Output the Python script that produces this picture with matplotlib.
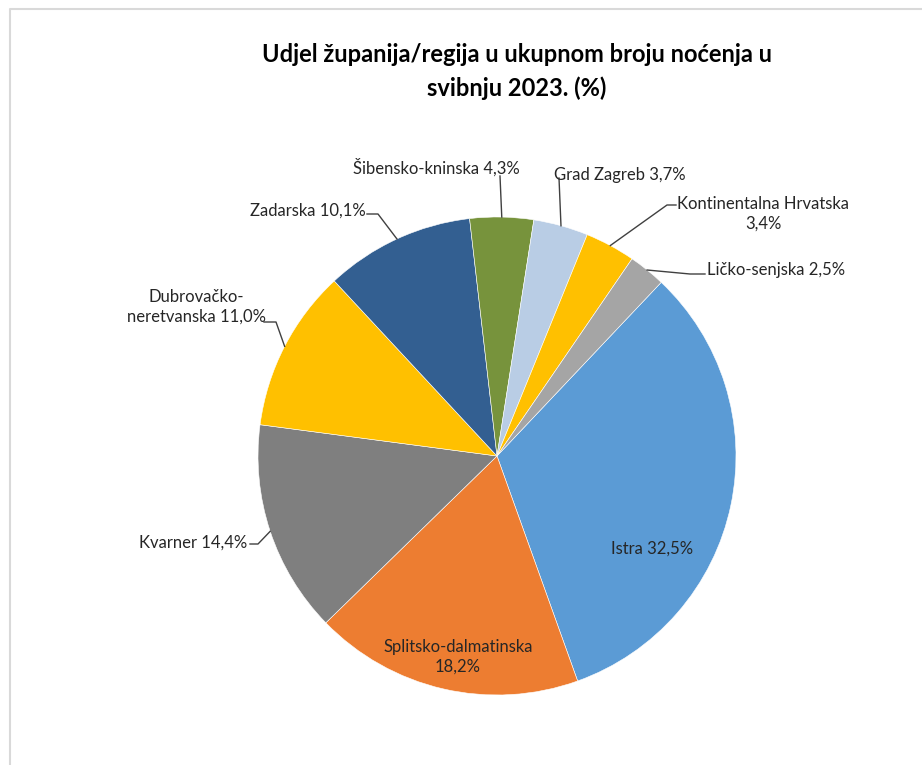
import numpy as np
import matplotlib.pyplot as plt
from matplotlib.lines import Line2D

plt.rcParams['font.family'] = ['Lato', 'DejaVu Sans']

# podaci (u smjeru kazaljke na satu, počevši od Istre)
regije = ['Istra', 'Splitsko-dalmatinska', 'Kvarner', 'Dubrovačko-\nneretvanska',
          'Zadarska', 'Šibensko-kninska', 'Grad Zagreb', 'Kontinentalna Hrvatska',
          'Ličko-senjska']
udjeli = [32.5, 18.2, 14.4, 11.0, 10.1, 4.3, 3.7, 3.4, 2.5]
boje = ['#5B9BD5', '#ED7D31', '#7F7F7F', '#FFC000', '#335F91',
        '#77933C', '#B9CDE5', '#FFC000', '#A5A5A5']

W, H = 922, 765
fig = plt.figure(figsize=(W / 100, H / 100), dpi=100)

# pie u zasebnim osima (ispod osi s oznakama)
cx, cy, r = 497, 456, 239
pax = fig.add_axes([(cx - r) / W, 1 - (cy + r) / H, 2 * r / W, 2 * r / H])
wedges, _ = pax.pie(udjeli, colors=boje, startangle=46.6, counterclock=False,
                    radius=1, center=(0, 0),
                    wedgeprops=dict(linewidth=0.4, edgecolor='white'))
pax.set_xlim(-1, 1)
pax.set_ylim(-1, 1)
pax.set_aspect('equal')
pax.axis('off')
pax.set_zorder(1)

ax = fig.add_axes([0, 0, 1, 1])
ax.set_xlim(0, W)
ax.set_ylim(H, 0)
ax.axis('off')
ax.set_zorder(2)

# okvir grafikona (gornji i lijevi rub)
ax.add_line(Line2D([10, 10, W], [H, 9, 9], color='#D9D9D9', lw=1.5))

fig.text(517 / W, 1 - 55 / H, 'Udjel županija/regija u ukupnom broju noćenja u',
         ha='center', va='center', fontsize=17, fontweight='bold', color='black')
fig.text(517 / W, 1 - 88 / H, 'svibnju 2023. (%)',
         ha='center', va='center', fontsize=17, fontweight='bold', color='black')

def fmt(v):
    return f'{v:.1f}%'.replace('.', ',')

txt_col = '#262626'
fs = 12

# raspored oznaka: (x, y, ha, točke vodilice u pikselima ili None)
raspored = [
    (652, 549, 'center', None),
    (458, 657, 'center', None),
    (247, 543, 'right', [(250, 544), (258, 544)]),
    (196, 307, 'center', [(264, 322), (276, 322)]),
    (366, 211, 'right', [(367, 214), (378, 214)]),
    (436, 167, 'center', [(500, 176)]),
    (620, 175, 'center', [(559, 178)]),
    (763, 214, 'center', [(676, 205), (667, 205)]),
    (776, 270, 'center', [(705, 274), (690, 274)]),
]

for w, name, v, (tx, ty, ha, vod) in zip(wedges, regije, udjeli, raspored):
    if name in ('Kontinentalna Hrvatska', 'Splitsko-dalmatinska'):
        label = name + '\n' + fmt(v)
    else:
        label = name + ' ' + fmt(v)
    ax.text(tx, ty, label, ha=ha, va='center', fontsize=fs, color=txt_col,
            multialignment='center', linespacing=1.3)
    if vod is not None:
        mid = np.deg2rad((w.theta1 + w.theta2) / 2)
        px = cx + r * np.cos(mid)
        py = cy - r * np.sin(mid)
        xs = [p[0] for p in vod] + [px]
        ys = [p[1] for p in vod] + [py]
        ax.add_line(Line2D(xs, ys, color='#404040', lw=1.0))

fig.savefig('out.png', dpi=100, facecolor='white')
